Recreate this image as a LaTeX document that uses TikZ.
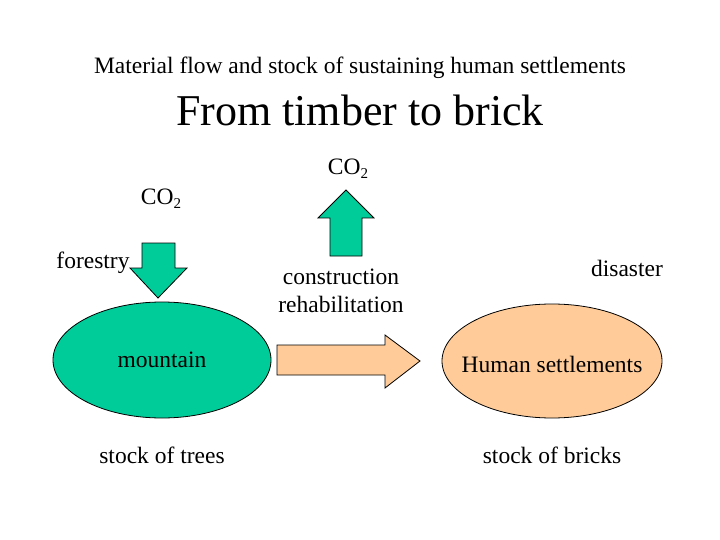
\documentclass[tikz,border=0pt]{standalone}
\usepackage{fontspec}
\usetikzlibrary{shapes.geometric}
\setmainfont{Liberation Serif}
\definecolor{grn}{HTML}{00CC99}
\definecolor{peach}{HTML}{FFCC99}
\begin{document}
\begin{tikzpicture}[x=1pt,y=-1pt,
  lbl/.style={font=\fontsize{23.5}{28}\selectfont, inner sep=0pt},
  shp/.style={draw=black, line width=0.8pt}]
\useasboundingbox (0,0) rectangle (720,540);
\node[lbl] (sub) at (360,68) {Material flow and stock of sustaining human settlements};
\node[font=\fontsize{44}{48}\selectfont, inner sep=0pt] (ttl) at (360,110) {From timber to brick};
\node[lbl] (co2a) at (161,199) {CO\raisebox{-0.35ex}{\fontsize{15}{18}\selectfont 2}};
\node[lbl] (for) at (93,263) {forestry};
\draw[shp, fill=grn] (142,243) -- (175,243) -- (175,268) -- (187,268) -- (158,298) -- (130,268) -- (142,268) -- cycle;
\node[shp, fill=grn, ellipse, minimum width=218, minimum height=116, inner sep=0pt] (mtn) at (162,360) {};
\node[lbl] at (mtn) {mountain};
\node[lbl] (sot) at (162,455) {stock of trees};
\draw[shp, fill=grn] (330,256) -- (362,256) -- (362,218) -- (374,218) -- (346,190) -- (318,218) -- (330,218) -- cycle;
\node[lbl] (co2b) at (348,169) {CO\raisebox{-0.35ex}{\fontsize{15}{18}\selectfont 2}};
\node[lbl, align=center] (cons) at (341,291) {construction\\rehabilitation};
\draw[shp, fill=peach] (277,345) -- (385,345) -- (385,335) -- (420,361) -- (385,388) -- (385,375) -- (277,375) -- cycle;
\node[shp, fill=peach, ellipse, minimum width=220, minimum height=114, inner sep=0pt] (hs) at (552,361) {};
\node[lbl] at (552,364) {Human settlements};
\node[lbl] (dis) at (627,268) {disaster};
\node[lbl] (sob) at (552,455) {stock of bricks};
\end{tikzpicture}
\end{document}
